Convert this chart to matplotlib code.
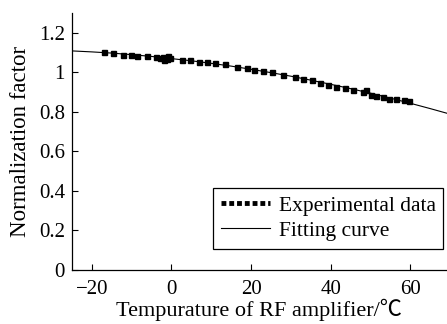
import matplotlib
matplotlib.use("Agg")
import matplotlib.pyplot as plt
from matplotlib.lines import Line2D

plt.rcParams['font.family'] = ['Liberation Serif', 'Noto Sans CJK SC', 'DejaVu Serif']

# Experimental data (temperature in degC, normalization factor)
exp_temp = [-16.9, -14.8, -12.3, -10.25, -8.6, -6.1, -4.0, -2.8, -2.2, -1.6, -1.0, -0.5,
            -1.9, -1.2, 2.7, 4.75, 6.8, 8.9, 11.0, 13.5, 16.4, 18.9, 20.6, 23.1,
            25.2, 28.1, 31.0, 33.1, 35.2, 37.25, 39.3, 41.4, 43.5, 45.6, 48.1,
            48.9, 50.2, 51.4, 53.1, 54.75, 56.4, 58.5, 59.75]
exp_norm = [1.100, 1.097, 1.085, 1.085, 1.084, 1.080, 1.077, 1.072, 1.078, 1.070, 1.082, 1.074,
            1.064, 1.066, 1.063, 1.062, 1.053, 1.052, 1.046, 1.041, 1.029, 1.019, 1.013, 1.008,
            1.001, 0.987, 0.976, 0.964, 0.959, 0.945, 0.937, 0.923, 0.920, 0.908, 0.900,
            0.911, 0.886, 0.878, 0.874, 0.866, 0.867, 0.861, 0.856]

# Fitting curve read at 5 degC steps
fit_temp = [-25, -20, -15, -10, -5, 0, 5, 10, 15, 20, 25, 30, 35, 40, 45, 50, 55, 60, 65, 70]
fit_norm = [1.108, 1.103, 1.097, 1.089, 1.080, 1.069, 1.058, 1.045, 1.031, 1.015, 0.998,
            0.980, 0.960, 0.939, 0.917, 0.894, 0.869, 0.843, 0.816, 0.788]

fig = plt.figure(figsize=(4.47, 3.24), dpi=100)
ax = fig.add_axes([0.161, 0.167, 0.839, 0.793])

ax.plot(fit_temp, fit_norm, color='black', lw=0.8, zorder=2)
ax.plot(exp_temp, exp_norm, linestyle='none', marker='s', markersize=3.6,
        color='black', zorder=3)

ax.set_xlim(-25, 69.2)
ax.set_ylim(0, 1.3)
ax.set_xticks([-20, 0, 20, 40, 60])
ax.set_xticklabels(['\u221220', '0', '20', '40', '60'])
ax.set_yticks([0, 0.2, 0.4, 0.6, 0.8, 1.0, 1.2])
ax.set_yticklabels(['0', '0.2', '0.4', '0.6', '0.8', '1', '1.2'])
ax.tick_params(direction='in', length=4, width=0.8, labelsize=15)
ax.tick_params(axis='x', pad=7)
ax.tick_params(axis='y', pad=5)
for s in ['top', 'right']:
    ax.spines[s].set_visible(False)
for s in ['left', 'bottom']:
    ax.spines[s].set_linewidth(0.9)

ax.set_xlabel('Tempurature of RF amplifier/\u2103', fontsize=16, labelpad=0)
ax.set_ylabel('Normalization factor', fontsize=16.5, labelpad=6)

handles = [Line2D([0], [0], color='black', linestyle=(0, (1, 0.6)), lw=3.5),
           Line2D([0], [0], color='black', lw=0.8)]
leg = ax.legend(handles, ['Experimental data', 'Fitting curve'], loc='upper left',
                bbox_to_anchor=(0.376, 0.319), fontsize=15.5, frameon=True, fancybox=False,
                edgecolor='black', framealpha=1, handlelength=2.3, handletextpad=0.4,
                borderpad=0.35, labelspacing=0.25, borderaxespad=0)
leg.get_frame().set_linewidth(0.9)

fig.savefig('out.png', dpi=100)
